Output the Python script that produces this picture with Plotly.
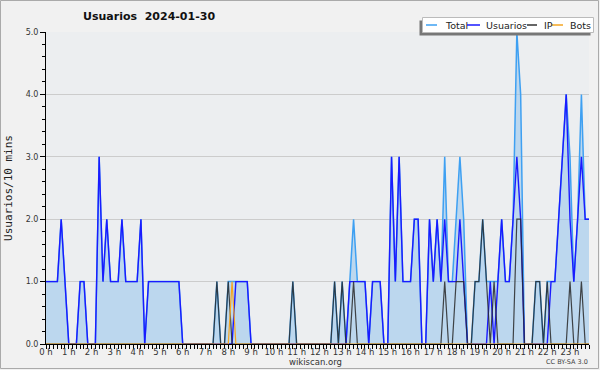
import plotly.graph_objects as go

# ---- data (10-minute intervals, 144 points) ----
hour_labels = [f"{h} h" for h in range(24)]
series_names = ["Total", "Usuarios", "IP", "Bots"]

usuarios = [1,1,1,1,2,1,0,0,0,1, 1,0,0,0,3,1,2,1,1,1,
            2,1,1,1,1,2,0,1,1,1, 1,1,1,1,1,1,0,0,0,0,
            0,0,0,0,0,0,0,0,0,0, 1,1,1,1,0,0,0,0,0,0,
            0,0,0,0,0,0,0,0,0,0, 0,0,0,0,0,0,0,0,0,0,
            1,1,1,1,1,0,1,1,1,0, 0,3,1,3,1,1,1,2,2,0,
            0,2,1,2,1,2,1,1,1,2, 1,0,0,0,0,0,0,1,0,1,
            2,1,1,2,3,2,0,0,0,0, 0,0,0,1,1,2,3,4,2,1,
            2,3,2,2]
ip = [0,0,0,0,0,0,0,0,0,0, 0,0,0,0,0,0,0,0,0,0,
      0,0,0,0,0,0,0,0,0,0, 0,0,0,0,0,0,0,0,0,0,
      0,0,0,0,0,1,0,0,1,0, 0,0,0,0,0,0,0,0,0,0,
      0,0,0,0,0,1,0,0,0,0, 0,0,0,0,0,0,1,0,1,0,
      0,1,0,0,0,0,0,0,0,0, 0,0,0,0,0,0,0,0,0,0,
      0,0,0,0,0,1,0,0,1,1, 1,0,0,1,1,2,1,0,1,0,
      0,0,0,0,2,2,0,0,0,1, 1,0,1,0,0,0,0,0,1,0,
      0,1,0,0]
bots = [0]*49 + [1] + [0]*94
total = [1,1,1,1,2,1,0,0,0,1, 1,0,0,0,3,1,2,1,1,1,
         2,1,1,1,1,2,0,1,1,1, 1,1,1,1,1,1,0,0,0,0,
         0,0,0,0,0,1,0,0,1,1, 1,1,1,1,0,0,0,0,0,0,
         0,0,0,0,0,1,0,0,0,0, 0,0,0,0,0,0,1,0,1,0,
         1,2,1,1,1,0,1,1,1,0, 0,3,1,3,1,1,1,2,2,0,
         0,2,1,2,1,3,1,1,2,3, 2,0,0,1,1,2,1,1,1,1,
         2,1,1,2,5,4,0,0,0,1, 1,0,1,1,1,2,3,4,3,1,
         2,4,2,2]
slots = list(range(len(total)))

colors = {"Total": "#3ea0f2", "Usuarios": "#1a1aff", "IP": "#333333", "Bots": "#f5a623"}

# ---- pixel helpers (plot area 46..589 x 32..344) ----
L, R, T, B, W, H = 46, 11, 32, 26, 600, 370
PW, PH = W - L - R, H - T - B
def fx(px): return (px - L) / PW
def fy(py): return (H - B - py) / PH

fig = go.Figure()
fig.add_trace(go.Scatter(x=slots, y=total, name="Total", mode="lines",
                         line=dict(color=colors["Total"], width=1.5),
                         fill="tozeroy", fillcolor="rgba(150,196,236,0.55)"))
fig.add_trace(go.Scatter(x=slots, y=usuarios, name="Usuarios", mode="lines",
                         line=dict(color=colors["Usuarios"], width=1.4)))
fig.add_trace(go.Scatter(x=slots, y=ip, name="IP", mode="lines",
                         line=dict(color="rgba(40,40,40,0.85)", width=1.2)))
fig.add_trace(go.Scatter(x=slots, y=bots, name="Bots", mode="lines",
                         line=dict(color=colors["Bots"], width=1.2)))

fig.update_layout(
    width=W, height=H, showlegend=False,
    margin=dict(l=L, r=R, t=T, b=B, autoexpand=False),
    paper_bgcolor="#f1f1f1", plot_bgcolor="#eceef0",
    font=dict(family="DejaVu Sans", size=8, color="#333"),
    xaxis=dict(range=[0, len(total) - 1], tickvals=list(range(0, 144, 6)),
               ticktext=hour_labels, ticks="outside", ticklen=4, tickcolor="black",
               showline=True, linecolor="black", linewidth=1, showgrid=False,
               zeroline=False, tickfont=dict(size=8.5, color="#333"), automargin=False,
               minor=dict(dtick=1, tick0=0, ticks="outside", ticklen=4, tickcolor="black")),
    yaxis=dict(range=[0, 5], dtick=1, tickformat=".1f", ticks="outside", ticklen=5,
               tickcolor="black", showline=True, linecolor="black", linewidth=1,
               showgrid=True, gridcolor="#cccccc", gridwidth=1, zeroline=False,
               tickfont=dict(size=8, color="#333"), automargin=False,
               title=dict(text="Usuarios/10 mins", font=dict(family="DejaVu Sans Mono", size=11, color="#222"), standoff=10),
               minor=dict(dtick=0.2, ticks="outside", ticklen=3, tickcolor="black", showgrid=False)),
)
try:
    fig.update_xaxes(ticklabelstandoff=-4)
except Exception:
    pass

shapes = []
# outer border
shapes.append(dict(type="rect", xref="paper", yref="paper", x0=fx(0.5), x1=fx(598.5), y0=fy(0.5), y1=fy(368.5),
                   line=dict(color="#aaaaaa", width=1), layer="below"))
# legend shadow + box
shapes.append(dict(type="rect", xref="paper", yref="paper", x0=fx(419.5), x1=fx(590.5), y0=fy(20.5), y1=fy(35.5),
                   fillcolor="#777777", line=dict(width=0), layer="above"))
shapes.append(dict(type="rect", xref="paper", yref="paper", x0=fx(422.5), x1=fx(593.5), y0=fy(17.5), y1=fy(32.5),
                   fillcolor="white", line=dict(color="#bbbbbb", width=1), layer="above"))
legend_items = [("Total", 426, 437, 443), ("Usuarios", 467, 480, 484),
                ("IP", 527, 537, 542), ("Bots", 552, 563, 568)]
annotations = []
for name, lx0, lx1, tx in legend_items:
    shapes.append(dict(type="line", xref="paper", yref="paper", x0=fx(lx0), x1=fx(lx1), y0=fy(25), y1=fy(25),
                       line=dict(color=colors[name], width=1.5), layer="above"))
    annotations.append(dict(text=name, xref="paper", yref="paper", x=fx(tx), y=fy(25), xanchor="left",
                            yanchor="middle", showarrow=False, font=dict(family="DejaVu Sans", size=9.5, color="#222")))

annotations.append(dict(text="<b>Usuarios  2024-01-30</b>", xref="paper", yref="paper", x=fx(149), y=fy(17),
                        xanchor="center", yanchor="middle", showarrow=False,
                        font=dict(family="DejaVu Sans", size=11, color="#111")))
annotations.append(dict(text="wikiscan.org", xref="paper", yref="paper", x=fx(315), y=fy(362),
                        xanchor="center", yanchor="middle", showarrow=False,
                        font=dict(family="DejaVu Sans", size=8.5, color="#333")))
annotations.append(dict(text="CC BY-SA 3.0", xref="paper", yref="paper", x=fx(590), y=fy(362),
                        xanchor="right", yanchor="middle", showarrow=False,
                        font=dict(family="DejaVu Sans", size=6.5, color="#444")))
fig.update_layout(shapes=shapes, annotations=annotations)

fig.write_html("out.html")
